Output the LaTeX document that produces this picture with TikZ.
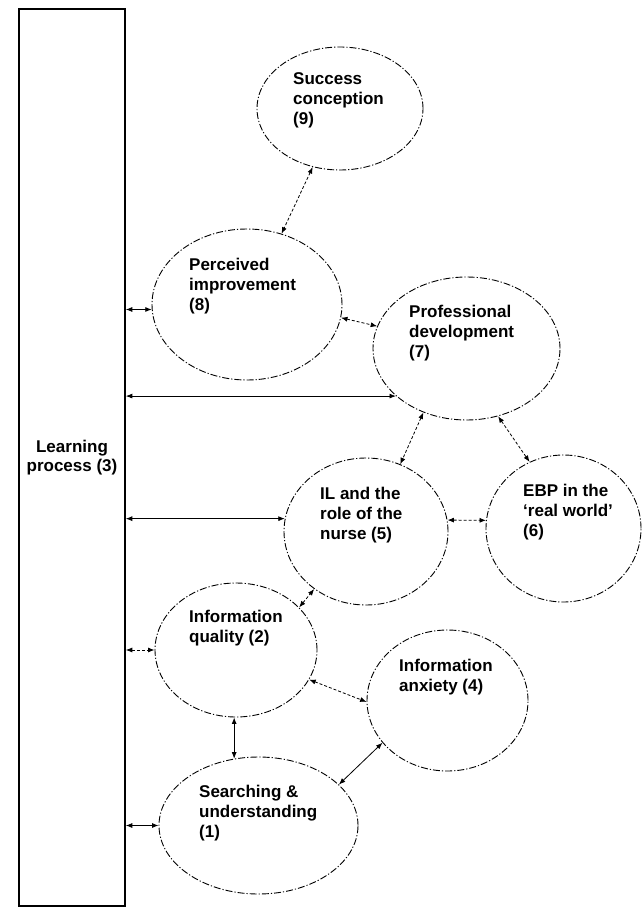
\documentclass[tikz,border=0pt]{standalone}
\usepackage{fontspec}
\setmainfont{Liberation Sans}
\usetikzlibrary{shapes.geometric,arrows.meta}
\begin{document}
\begin{tikzpicture}
[x=1pt,y=-1pt,
  ovaldecorate/.style={shape=ellipse,draw,line width=0.9pt,inner sep=0pt,%
    dash pattern=on 7pt off 2pt on 1.2pt off 2pt},
  textdecorate/.style={anchor=north west,inner sep=0pt,align=left,%
    font=\bfseries\fontsize{17}{20}\selectfont},
  linedecorate/.style={{Latex[length=6.5pt,width=5pt]}-{Latex[length=6.5pt,width=5pt]},line width=0.8pt},
  dashdecorate/.style={linedecorate,dash pattern=on 3pt off 2pt}]
\useasboundingbox (0,0) rectangle (643,909);
% learning process bar
\node (lp) at (72,457.5) [draw,line width=1.6pt,minimum width=106pt,minimum height=897pt,%
  align=center,font=\bfseries\fontsize{17}{19}\selectfont] {Learning\\process (3)};
% ellipses
\node (e9) at (340,108.5) [ovaldecorate,minimum width=166pt,minimum height=123pt] {};
\node (t9) at (293,72) [textdecorate] {Success\\conception\\(9)};
\node (e8) at (247,304.5) [ovaldecorate,minimum width=190pt,minimum height=151pt] {};
\node (t8) at (189,258) [textdecorate] {Perceived\\improvement\\(8)};
\node (e7) at (466.5,348.5) [ovaldecorate,minimum width=187pt,minimum height=143pt] {};
\node (t7) at (409,305) [textdecorate] {Professional\\development\\(7)};
\node (e5) at (366,531.5) [ovaldecorate,minimum width=164pt,minimum height=147pt] {};
\node (t5) at (320,487) [textdecorate] {IL and the\\role of the\\nurse (5)};
\node (e6) at (563.5,528.5) [ovaldecorate,minimum width=155pt,minimum height=147pt] {};
\node (t6) at (523,484) [textdecorate] {EBP in the\\`real world'\\(6)};
\node (e2) at (236,650) [ovaldecorate,minimum width=162pt,minimum height=134pt] {};
\node (t2) at (189,610) [textdecorate] {Information\\quality (2)};
\node (e4) at (447.5,700.5) [ovaldecorate,minimum width=161pt,minimum height=141pt] {};
\node (t4) at (399,659) [textdecorate] {Information\\anxiety (4)};
\node (e1) at (258.5,825.5) [ovaldecorate,minimum width=199pt,minimum height=137pt] {};
\node (t1) at (199,785) [textdecorate] {Searching \&\\understanding\\(1)};
% links to the learning process
\path
(lp.east |- e8.183) edge[linedecorate] (e8.183)
(lp.east |- e7.214) edge[linedecorate] (e7.214)
(lp.east |- e5.171) edge[linedecorate] (e5.171)
(lp.east |- e2.west) edge[dashdecorate] (e2.west)
(lp.east |- e1.west) edge[linedecorate] (e1.west);
% links between ellipses
\path
(e9.245) edge[dashdecorate] (e8.64)
(e8.352) edge[dashdecorate] (e7.166)
(e7.236) edge[dashdecorate] (e5.63)
(e7.295) edge[dashdecorate] (e6.117)
(e5.8) edge[dashdecorate] (e6.174)
(e2.34) edge[dashdecorate] (e5.228)
(e2.338) edge[dashdecorate] (e4.181)
(e1.110) edge[linedecorate] (e1.110 |- e2.south)
(e4.213) edge[linedecorate] (e1.27);
\end{tikzpicture}
\end{document}
